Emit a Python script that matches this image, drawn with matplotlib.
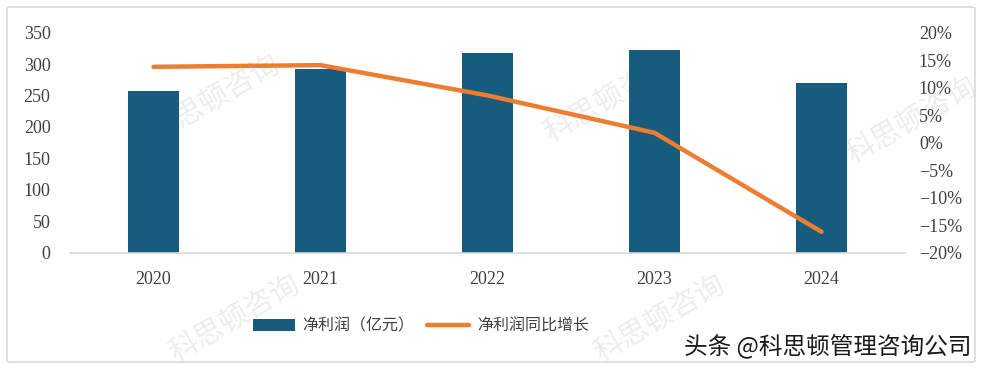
import matplotlib
matplotlib.use("Agg")
import matplotlib.pyplot as plt
from matplotlib.patches import FancyBboxPatch
from matplotlib.ticker import FuncFormatter

years = ["2020", "2021", "2022", "2023", "2024"]
net_profit = [257, 292, 317, 322, 270]
growth_pct = [13.8, 14.1, 8.6, 1.8, -16.2]

bar_color = "#175c7f"
line_color = "#ed7d31"
cjk = ["Noto Sans CJK SC", "DejaVu Sans"]
num_font = ["Liberation Serif", "DejaVu Serif"]

fig = plt.figure(figsize=(9.84, 3.71), dpi=100)
fig.patch.set_facecolor("white")

# outer border
border = FancyBboxPatch((7 / 984, 9 / 371), 968 / 984, 355 / 371,
                        boxstyle="round,pad=0,rounding_size=0.004",
                        transform=fig.transFigure, fill=False,
                        edgecolor="#d9d9d9", linewidth=1.2)
fig.patches.append(border)

# watermarks (behind everything)
wm_positions = [(215, 100), (610, 100), (912, 122), (235, 320), (660, 320)]
for (px, py) in wm_positions:
    fig.text(px / 984, 1 - py / 371, "科思顿咨询", family=cjk, fontsize=21,
             fontweight="light", color="#ededed", rotation=30,
             ha="center", va="center", zorder=-5)

ax = fig.add_axes([70 / 984, 118.3 / 371, 835 / 984, 220 / 371])
ax.patch.set_alpha(0)
x = list(range(len(years)))
ax.bar(x, net_profit, width=0.31, color=bar_color, zorder=2, label="净利润（亿元）")
ax.set_xlim(-0.5, len(years) - 0.5)
ax.set_ylim(0, 350)
ax.set_yticks(range(0, 351, 50))
ax.set_xticks(x)
ax.set_xticklabels(years)
for s in ["top", "right", "left"]:
    ax.spines[s].set_visible(False)
ax.spines["bottom"].set_color("#d9d9d9")
ax.spines["bottom"].set_linewidth(1.2)
ax.tick_params(axis="both", length=0, labelsize=13, labelcolor="#404040")
ax.tick_params(axis="x", pad=13)
ax.tick_params(axis="y", pad=14)
for lab in ax.get_xticklabels() + ax.get_yticklabels():
    lab.set_family(num_font)

ax2 = ax.twinx()
ax2.patch.set_alpha(0)
ax2.plot(x, growth_pct, color=line_color, linewidth=3.2, solid_capstyle="round",
         solid_joinstyle="round", zorder=3, label="净利润同比增长")
ax2.set_ylim(-20, 20)
ax2.set_yticks(range(-20, 21, 5))
ax2.yaxis.set_major_formatter(FuncFormatter(lambda v, p: f"{int(v)}%".replace("-", "\u2212")))
for s in ["top", "right", "left", "bottom"]:
    ax2.spines[s].set_visible(False)
ax2.tick_params(axis="y", length=0, labelsize=13, labelcolor="#404040", pad=10)
for lab in ax2.get_yticklabels():
    lab.set_family(num_font)

h1, l1 = ax.get_legend_handles_labels()
h2, l2 = ax2.get_legend_handles_labels()
leg = fig.legend(h1 + h2, l1 + l2, loc="center", bbox_to_anchor=(421 / 984, 1 - 326 / 371),
                 ncol=2, frameon=False, prop={"family": cjk, "size": 11.5},
                 handlelength=2.6, handletextpad=0.5, columnspacing=0.8)
for t in leg.get_texts():
    t.set_color("#404040")

fig.text(971 / 984, 1 - 346 / 371, "头条 @科思顿管理咨询公司", family=cjk, fontsize=17,
         color="#1a1a1a", ha="right", va="center")

fig.savefig("out.png", dpi=100)
